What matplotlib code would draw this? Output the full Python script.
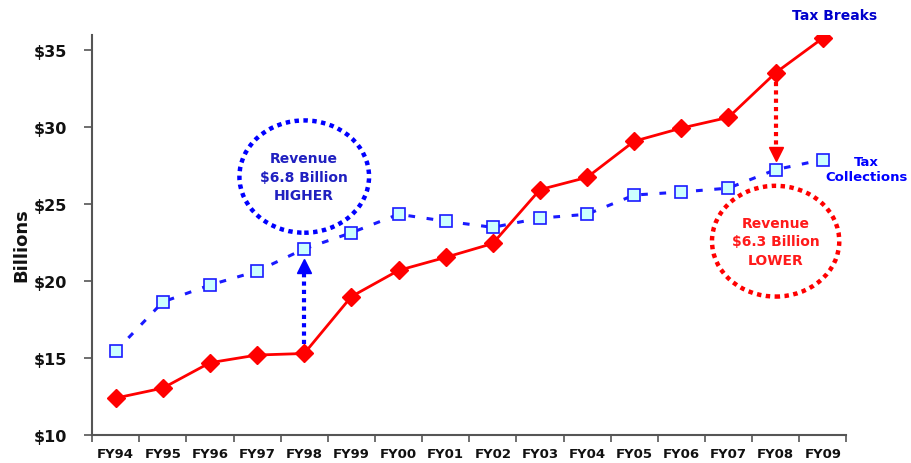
import matplotlib
matplotlib.use('Agg')
import matplotlib.pyplot as plt
from matplotlib.patches import Ellipse

# Data (billions of dollars)
years = ['FY94', 'FY95', 'FY96', 'FY97', 'FY98', 'FY99', 'FY00', 'FY01',
         'FY02', 'FY03', 'FY04', 'FY05', 'FY06', 'FY07', 'FY08', 'FY09']
tax_breaks = [12.4, 13.05, 14.7, 15.2, 15.3, 19.0, 20.7, 21.55,
              22.45, 25.95, 26.75, 29.1, 29.95, 30.65, 33.55, 35.8]
tax_collections = [15.45, 18.65, 19.75, 20.65, 22.1, 23.15, 24.35, 23.9,
                   23.5, 24.1, 24.35, 25.6, 25.8, 26.05, 27.25, 27.9]
yticks = [10, 15, 20, 25, 30, 35]

x = list(range(len(years)))

fig = plt.figure(figsize=(9.12, 4.64), dpi=100)
ax = fig.add_axes([0.101, 0.0603, 0.827, 0.862])

# Tax collections (blue dashed, light cyan squares)
ax.plot(x, tax_collections, color='#1a1aff', lw=2.2, linestyle=(0, (2.2, 3.8)),
        marker='s', markersize=9, markerfacecolor='#ccffff',
        markeredgecolor='#1a1aff', markeredgewidth=1.2, zorder=3)
# Tax breaks (red solid, diamonds)
ax.plot(x, tax_breaks, color='#ff0000', lw=2, marker='D', markersize=9,
        markerfacecolor='#ff0000', markeredgecolor='#ff0000', zorder=4)

# Dotted arrows showing the gap
i98 = years.index('FY98')
ax.plot([i98, i98], [tax_breaks[i98] + 0.6, tax_collections[i98] - 1.5],
        color='#0000ff', lw=3, linestyle=(0, (1, 1)), zorder=2)
ax.plot([i98], [tax_collections[i98] - 1.1], marker='^', markersize=10,
        color='#0000ff', zorder=2)

i08 = years.index('FY08')
ax.plot([i08, i08], [tax_breaks[i08] - 0.6, tax_collections[i08] + 1.5],
        color='#ff0000', lw=3, linestyle=(0, (1, 1)), zorder=2)
ax.plot([i08], [tax_collections[i08] + 1.05], marker='v', markersize=10,
        color='#ff0000', zorder=2)

# Dotted circles with callout text
ax.add_patch(Ellipse((i98, 26.8), 2.75, 7.3, fill=False, edgecolor='#0000ff',
                     lw=3.2, linestyle=(0, (1, 1))))
ax.text(i98, 26.8, 'Revenue\n$6.8 Billion\nHIGHER', ha='center', va='center',
        fontsize=10, fontweight='bold', color='#2020c0', linespacing=1.4)

ax.add_patch(Ellipse((i08, 22.6), 2.7, 7.2, fill=False, edgecolor='#ff0000',
                     lw=3.2, linestyle=(0, (1, 1))))
ax.text(i08, 22.6, 'Revenue\n$6.3 Billion\nLOWER', ha='center', va='center',
        fontsize=10, fontweight='bold', color='#ff1a1a', linespacing=1.4)

# Series labels
ax.text(15.24, 37.3, 'Tax Breaks', ha='center', va='center', fontsize=10,
        fontweight='bold', color='#0000cc', clip_on=False)
ax.text(15.93, 27.3, 'Tax\nCollections', ha='center', va='center', fontsize=9.5,
        fontweight='bold', color='#0000ff', linespacing=1.15, clip_on=False)

# Axes
ax.set_xlim(-0.5, len(years) - 0.5)
ax.set_ylim(10, 36)
ax.set_yticks(yticks)
ax.set_yticklabels([f'${v}' for v in yticks])
ax.set_xticks(x)
ax.set_xticklabels(years)
ax.set_xticks([i - 0.5 for i in range(len(years) + 1)], minor=True)
ax.tick_params(axis='x', which='major', length=0, pad=8.5, labelsize=9.5)
ax.tick_params(axis='x', which='minor', length=5, width=1.2, color='#555555')
ax.tick_params(axis='y', length=6, width=1.2, color='#555555', pad=12, labelsize=11.5)
for lab in ax.get_xticklabels() + ax.get_yticklabels():
    lab.set_fontweight('bold')
    lab.set_color('#111111')

for side in ['top', 'right']:
    ax.spines[side].set_visible(False)
for side in ['left', 'bottom']:
    ax.spines[side].set_color('#555555')
    ax.spines[side].set_linewidth(1.5)

fig.text(0.023, 0.472, 'Billions', rotation=90, ha='center', va='center',
         fontsize=13, fontweight='bold', color='#111111')

fig.savefig('out.png', dpi=100)
